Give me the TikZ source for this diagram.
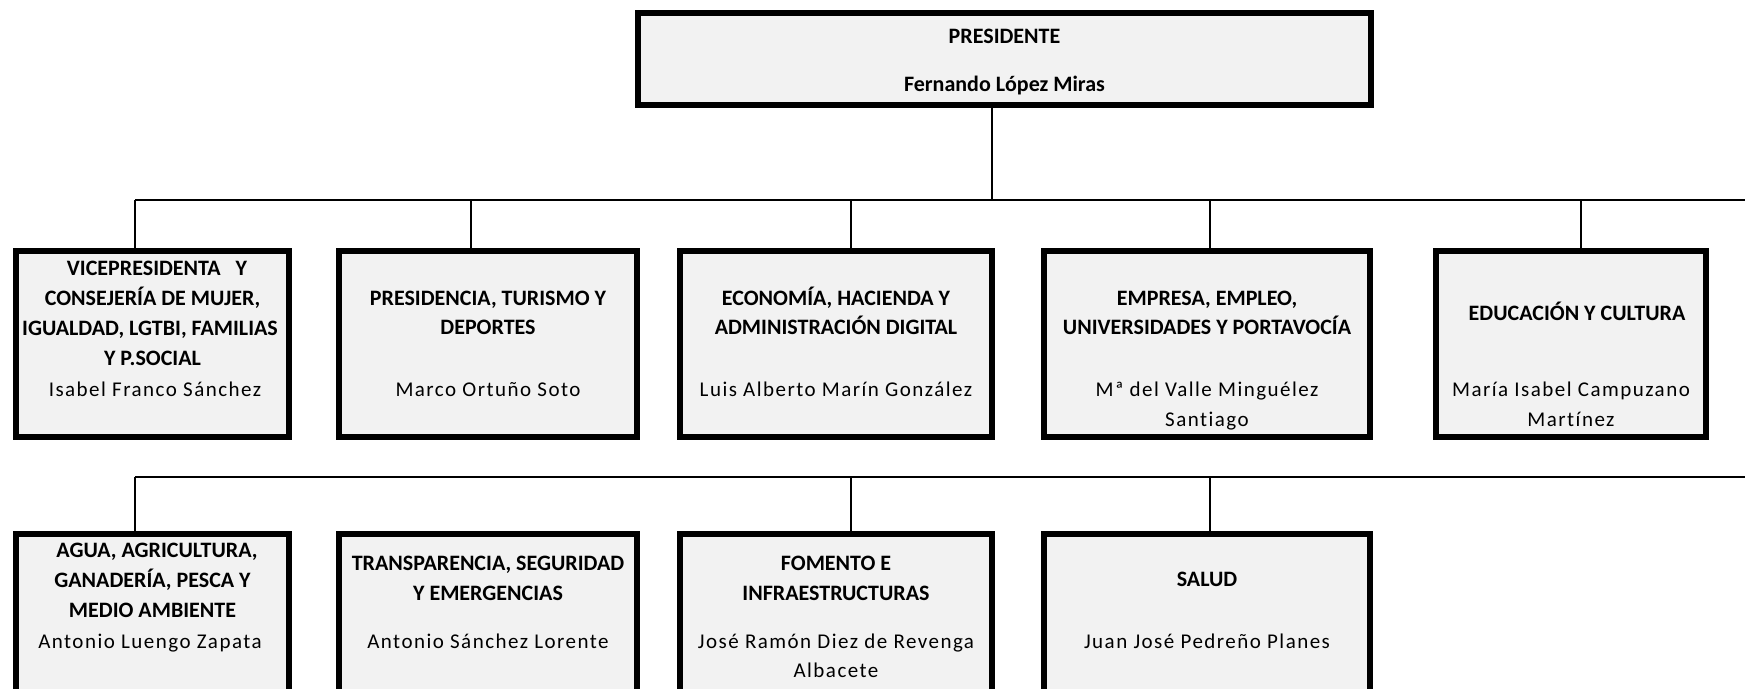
\documentclass[tikz,border=0pt]{standalone}
\usepackage{fontspec}
\setmainfont{Carlito}
\newfontfamily\namefont[LetterSpace=7,Ligatures=NoCommon]{Carlito}
\definecolor{boxgray}{HTML}{F2F2F2}
\begin{document}
\begin{tikzpicture}[x=1pt,y=-1pt,
  orgbox/.style={draw=black, line width=5.7pt, fill=boxgray, inner sep=0pt},
  rowone/.style={minimum height=186pt},
  rowtwo/.style={minimum height=186pt},
  ttl/.style={anchor=base, inner sep=0pt, font=\fontsize{22}{26}\selectfont\bfseries},
  nm/.style={anchor=base, inner sep=0pt, font=\namefont\fontsize{21}{25}\selectfont},
  conn/.style={line width=1.5pt}]
\useasboundingbox (0,0) rectangle (1745,688);
\clip (0,0) rectangle (1745,688);

% president
\node[orgbox, minimum width=733pt, minimum height=92pt] (pres) at (1004.5,59) {};
\node[ttl] (presA) at (1004.5,43) {PRESIDENTE};
\node[ttl] (presB) at (1004.5,91) {Fernando López Miras};

% row 1 boxes
\node[orgbox, rowone, minimum width=273pt] (b1) at (152.5,344) {};
\node[orgbox, rowone, minimum width=298pt] (b2) at (488,344) {};
\node[orgbox, rowone, minimum width=312pt] (b3) at (836,344) {};
\node[orgbox, rowone, minimum width=326pt] (b4) at (1207,344) {};
\node[orgbox, rowone, minimum width=270pt] (b5) at (1571,344) {};

% row 2 boxes
\node[orgbox, rowtwo, minimum width=273pt] (c1) at (152.5,627) {};
\node[orgbox, rowtwo, minimum width=298pt] (c2) at (488,627) {};
\node[orgbox, rowtwo, minimum width=312pt] (c3) at (836,627) {};
\node[orgbox, rowtwo, minimum width=326pt] (c4) at (1207,627) {};

% row 1 texts
\node[ttl] (b1a) at (157,275) {VICEPRESIDENTA\ \ \ Y};
\node[ttl] (b1b) at (152.5,305) {CONSEJERÍA DE MUJER,};
\node[ttl] (b1c) at (150,335) {IGUALDAD, LGTBI, FAMILIAS};
\node[ttl] (b1d) at (152.5,365) {Y P.SOCIAL};
\node[nm] (b1n) at (155,396) {Isabel Franco Sánchez};

\node[ttl] (b2a) at (488,305) {PRESIDENCIA, TURISMO Y};
\node[ttl] (b2b) at (488,334) {DEPORTES};
\node[nm] (b2n) at (488,396) {Marco Ortuño Soto};

\node[ttl] (b3a) at (836,305) {ECONOMÍA, HACIENDA Y};
\node[ttl] (b3b) at (836,334) {ADMINISTRACIÓN DIGITAL};
\node[nm] (b3n) at (836,396) {Luis Alberto Marín González};

\node[ttl] (b4a) at (1207,305) {EMPRESA, EMPLEO,};
\node[ttl] (b4b) at (1207,334) {UNIVERSIDADES Y PORTAVOCÍA};
\node[nm] (b4n) at (1207,396) {Mª del Valle Minguélez};
\node[nm] (b4m) at (1207,426) {Santiago};

\node[ttl] (b5a) at (1577,320) {EDUCACIÓN Y CULTURA};
\node[nm] (b5n) at (1571,396) {María Isabel Campuzano};
\node[nm] (b5m) at (1571,426) {Martínez};

% row 2 texts
\node[ttl] (c1a) at (157,557) {AGUA, AGRICULTURA,};
\node[ttl] (c1b) at (152.5,587) {GANADERÍA, PESCA Y};
\node[ttl] (c1c) at (152.5,617) {MEDIO AMBIENTE};
\node[nm] (c1n) at (150,648) {Antonio Luengo Zapata};

\node[ttl] (c2a) at (488,570) {TRANSPARENCIA, SEGURIDAD};
\node[ttl] (c2b) at (488,600) {Y EMERGENCIAS};
\node[nm] (c2n) at (488,648) {Antonio Sánchez Lorente};

\node[ttl] (c3a) at (836,570) {FOMENTO E};
\node[ttl] (c3b) at (836,600) {INFRAESTRUCTURAS};
\node[nm] (c3n) at (836,648) {José Ramón Diez de Revenga};
\node[nm] (c3m) at (836,677) {Albacete};

\node[ttl] (c4a) at (1207,586) {SALUD};
\node[nm] (c4n) at (1207,648) {Juan José Pedreño Planes};

% connectors row 1
\coordinate (j0) at (992,200);
\coordinate (r1s) at (135,200);
\coordinate (r1e) at (1745,200);
\draw[conn] (pres.south -| j0) -- (j0);
\draw[conn] (r1s) -- (r1e);
\coordinate (d1) at (135,200);
\coordinate (d2) at (471,200);
\coordinate (d3) at (851,200);
\coordinate (d4) at (1210,200);
\coordinate (d5) at (1581,200);
\draw[conn] (d1) -- (d1 |- b1.north);
\draw[conn] (d2) -- (d2 |- b2.north);
\draw[conn] (d3) -- (d3 |- b3.north);
\draw[conn] (d4) -- (d4 |- b4.north);
\draw[conn] (d5) -- (d5 |- b5.north);

% connectors row 2
\coordinate (r2s) at (135,477);
\coordinate (r2e) at (1745,477);
\draw[conn] (r2s) -- (r2e);
\coordinate (e1) at (135,477);
\coordinate (e3) at (851,477);
\coordinate (e4) at (1210,477);
\draw[conn] (e1) -- (e1 |- c1.north);
\draw[conn] (e3) -- (e3 |- c3.north);
\draw[conn] (e4) -- (e4 |- c4.north);
\end{tikzpicture}
\end{document}
